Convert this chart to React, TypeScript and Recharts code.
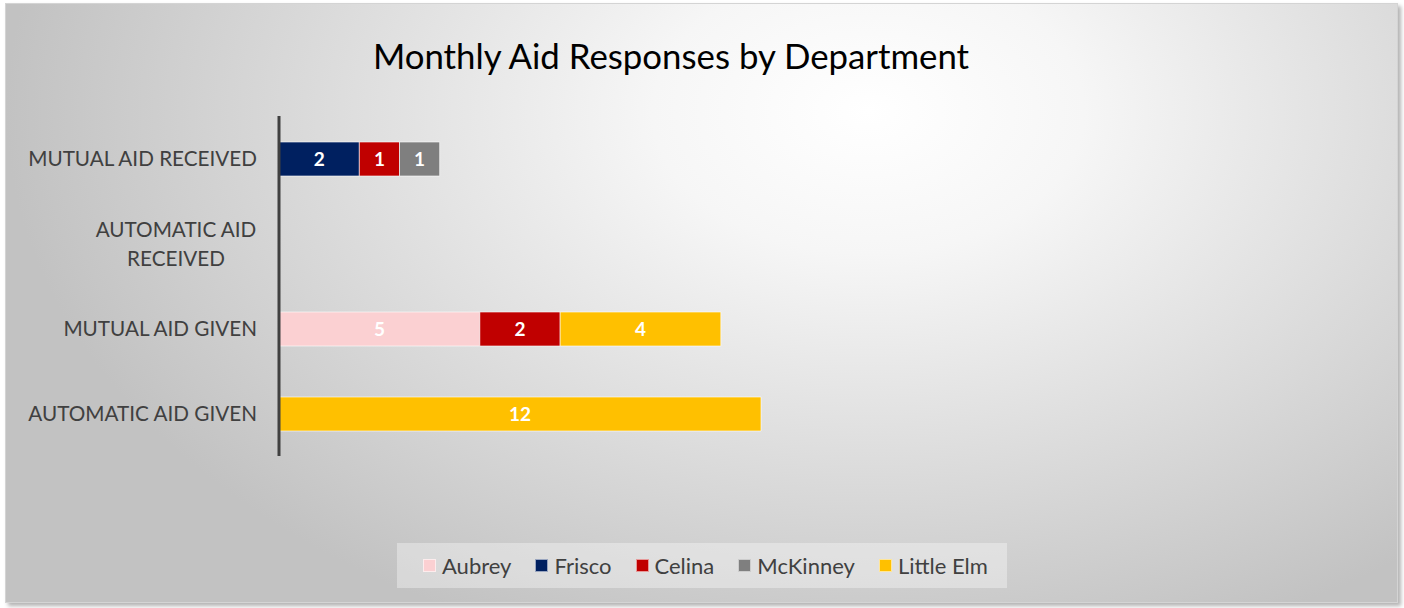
import React from 'react';
import { BarChart, Bar, XAxis, YAxis, LabelList, Legend } from 'recharts';

const categories = ['MUTUAL AID RECEIVED', 'AUTOMATIC AID RECEIVED', 'MUTUAL AID GIVEN', 'AUTOMATIC AID GIVEN'];
const departments = ['Aubrey', 'Frisco', 'Celina', 'McKinney', 'Little Elm'];
const colors = ['#fbd0d2', '#002060', '#c00000', '#7f7f7f', '#ffc000'];

const aubrey = [0, 0, 5, 0];
const frisco = [2, 0, 0, 0];
const celina = [1, 0, 2, 0];
const mckinney = [1, 0, 0, 0];
const littleElm = [0, 0, 4, 12];

const series = [aubrey, frisco, celina, mckinney, littleElm];

const data = categories.map((name, i) => {
  const row: Record<string, any> = { name };
  departments.forEach((d, j) => { row[d] = series[j][i]; });
  return row;
});

const FONT = 'Lato, "Open Sans", sans-serif';

const CategoryTick = ({ y, payload }: any) => {
  const label: string = payload.value;
  const right = 251;
  if (label.length <= 20) {
    return (
      <text x={right} y={y} dy={7.5} textAnchor="end" fontSize={20.7} fill="#404040" fontFamily={FONT}>{label}</text>
    );
  }
  const cut = label.lastIndexOf(' ');
  const lines = [label.slice(0, cut), label.slice(cut + 1)];
  return (
    <text x={right - 81} y={y} textAnchor="middle" fontSize={20.7} fill="#404040" fontFamily={FONT}>
      {lines.map((l, i) => (
        <tspan key={i} x={right - 81} dy={i === 0 ? -7 : 29}>{l}</tspan>
      ))}
    </text>
  );
};

const renderLegend = () => (
  <div style={{
    width: 610, height: 45, background: 'rgba(255,255,255,0.35)', display: 'flex',
    alignItems: 'center', paddingLeft: 26, boxSizing: 'border-box', fontFamily: FONT,
    whiteSpace: 'nowrap',
  }}>
    {departments.map((d, i) => (
      <div key={d} style={{ display: 'flex', alignItems: 'center', marginRight: 24, flexShrink: 0 }}>
        <span style={{ width: 13, height: 13, background: colors[i], border: '1px solid rgba(255,255,255,0.6)', boxSizing: 'border-box', marginRight: 6 }} />
        <span style={{ fontSize: 22, color: '#404040' }}>{d}</span>
      </div>
    ))}
  </div>
);

const hideZero = (v: any) => (v ? v : '');

export default function App() {
  return (
    <div style={{ position: 'relative', width: 1404, height: 608 }}>
      <style>{'body{margin:0}'}</style>
      <div style={{
        position: 'absolute', left: 5, top: 3, width: 1393, height: 600,
        background: 'radial-gradient(ellipse 62% 95% at 62% 18%, #ffffff 0%, #f6f6f6 25%, #c2c2c2 100%)',
        border: '1px solid #d4d4d4', boxSizing: 'border-box',
        boxShadow: '3px 3px 4px rgba(0,0,0,0.3)',
      }}>
        <div style={{
          position: 'absolute', left: 0, top: 31, width: 1330, textAlign: 'center',
          fontFamily: FONT, fontSize: 34.8, color: '#000',
        }}>Monthly Aid Responses by Department</div>
        <div style={{ position: 'absolute', left: 0, top: 0 }}>
          <BarChart
            width={1391}
            height={598}
            data={data}
            layout="vertical"
            barSize={34}
            margin={{ top: 112, bottom: 101, left: 0, right: 636 }}
          >
            <XAxis type="number" domain={[0, 12]} hide />
            <YAxis
              type="category"
              dataKey="name"
              width={273}
              axisLine={{ stroke: '#404040', strokeWidth: 3 }}
              tickLine={false}
              tick={<CategoryTick />}
            />
            {departments.map((d, i) => (
              <Bar key={d} dataKey={d} stackId="a" fill={colors[i]} stroke="rgba(255,255,255,0.6)" strokeWidth={1} isAnimationActive={false}>
                <LabelList dataKey={d} position="center" formatter={hideZero} fill="#ffffff" fontSize={19} fontWeight="bold" fontFamily={FONT} />
              </Bar>
            ))}
            <Legend content={renderLegend} wrapperStyle={{ position: 'absolute', left: 391, top: 539, width: 610, height: 45 }} />
          </BarChart>
        </div>
      </div>
    </div>
  );
}
